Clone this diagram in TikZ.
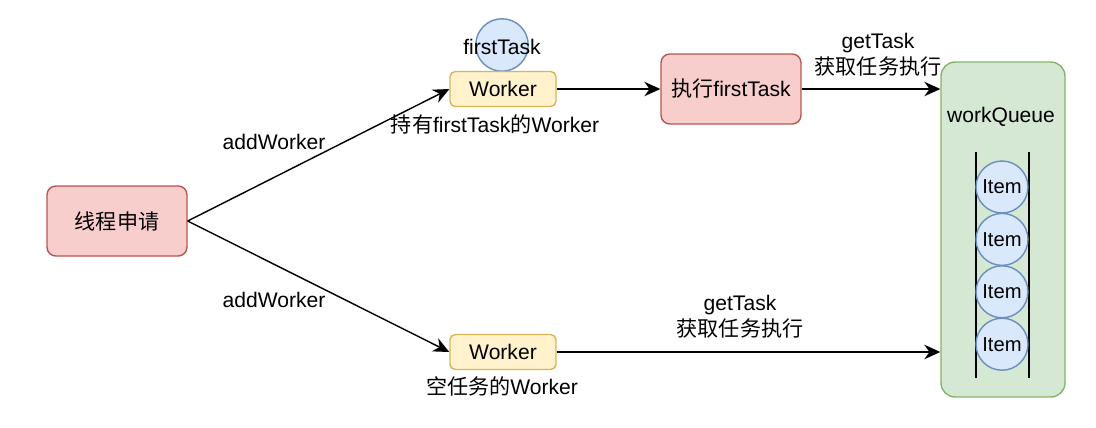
\documentclass[tikz,border=0pt]{standalone}
\usepackage{fontspec}
\setmainfont{Liberation Sans}
\newfontfamily\cjk{Noto Sans CJK SC}
\usepackage{tikz}
\usetikzlibrary{arrows.meta,positioning}
\usepackage{xcolor}
\definecolor{tpred}{HTML}{F8CECC}
\definecolor{tpredline}{HTML}{B85450}
\definecolor{tpyellow}{HTML}{FFF2CC}
\definecolor{tpyellowline}{HTML}{D6B656}
\definecolor{tpblue}{HTML}{DAE8FC}
\definecolor{tpblueline}{HTML}{6C8EBF}
\definecolor{tpgreen}{HTML}{D5E8D4}
\definecolor{tpgreenline}{HTML}{82B366}

\begin{document}
\begin{tikzpicture}[x=0.02cm,y=-0.02cm,>={Stealth[length=3.2mm,width=2.9mm]},
  font=\fontsize{12}{14}\selectfont,
  redbox/.style={draw=tpredline,fill=tpred,line width=0.8pt,rounded corners=5pt,
    minimum width=2.8cm,minimum height=1.4cm,inner sep=0pt},
  workerbox/.style={draw=tpyellowline,fill=tpyellow,line width=0.8pt,rounded corners=3pt,
    minimum width=2.12cm,minimum height=0.7cm,inner sep=0pt},
  taskball/.style={circle,draw=tpblueline,fill=tpblue,line width=0.8pt,
    minimum size=1.05cm,inner sep=0pt},
  flow/.style={->,line width=0.8pt}]
\useasboundingbox (0,0) rectangle (1096,427);

% applicant and the two workers
\node[redbox] (apply) at (117,221) {\cjk 线程申请};
\node[taskball] (first) at (502,45) {};
\node at (502,47) {firstTask};
\node[workerbox] (worker1) at (503,89) {Worker};
\node (hold) at (495,124) {{\cjk 持有}firstTask{\cjk 的}Worker};
\node[workerbox] (worker2) at (503,352) {Worker};
\node (empty) at (502,386) {{\cjk 空任务的}Worker};
\node[redbox] (exec) at (731,89) {{\cjk 执行}firstTask};

% work queue
\node[draw=tpgreenline,fill=tpgreen,line width=0.8pt,rounded corners=8pt,
  minimum width=2.48cm,minimum height=6.7cm] (queue) at (1003,229.5) {};
\node (qname) at (1001,117) {workQueue};
\draw[line width=0.8pt] (976,152) -- (976,378) (1029,152) -- (1029,378);
\foreach \i in {0,...,3}{
  \node[taskball,minimum size=1.04cm,font=\fontsize{11.5}{13}\selectfont]
    (item\i) at (1002,{187+52.4*\i}) {Item};
}

% connectors
\draw[flow] (apply.east) -- (worker1.west);
\draw[flow] (apply.east) -- (worker2.west);
\node (add1) at (274,142) {addWorker};
\node (add2) at (274,300) {addWorker};
\draw[flow] (worker1.east) -- (exec.west);
\draw[flow] (exec.east) -- (exec.east -| queue.west);
\draw[flow] (worker2.east) -- (worker2.east -| queue.west);
\node[align=center] (get1) at (878,55) {getTask\\[1pt]{\cjk 获取任务执行}};
\node[align=center] (get2) at (740,317) {getTask\\[1pt]{\cjk 获取任务执行}};
\end{tikzpicture}
\end{document}
